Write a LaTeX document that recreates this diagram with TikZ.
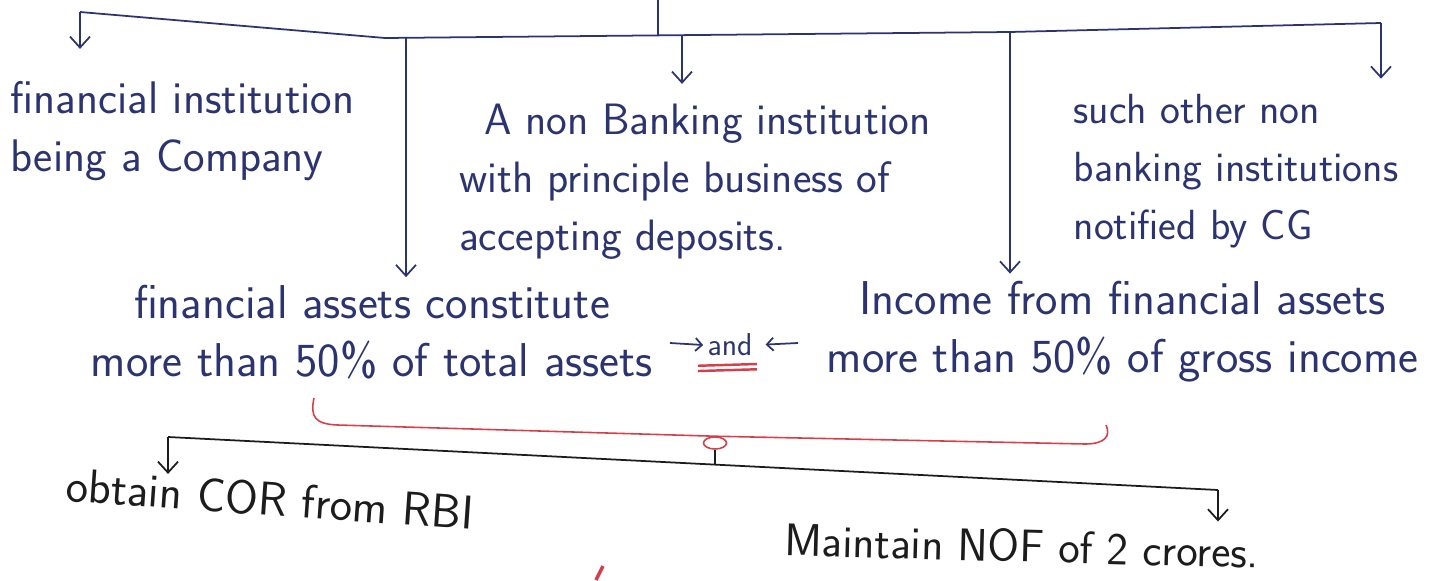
\documentclass[tikz,border=0pt]{standalone}
\usepackage{fontspec}
\usetikzlibrary{arrows.meta,shapes.geometric}

\definecolor{blueink}{RGB}{43,52,112}
\definecolor{blackink}{RGB}{28,28,28}
\definecolor{redink}{RGB}{214,62,74}

\begin{document}
\begin{tikzpicture}[
    x=1cm, y=1cm,
    >={Straight Barb[length=2.2mm,width=4mm]},
    line width=1pt,
    hand/.style={font=\sffamily\fontsize{#1}{33}\selectfont},
    every node/.style={hand=22},
    note/.style={
        text=blueink,
        align=left,
        inner sep=4pt
    },
    bignote/.style={
        text=blueink,
        align=center,
        inner sep=4pt
    },
    lownote/.style={
        text=blackink,
        inner sep=4pt
    },
    smallarrow/.style={
        ->,
        >={Straight Barb[length=1.3mm,width=2.6mm]}
    }
]

    \useasboundingbox (0,0) rectangle (28.8,-11.6);

    % Top bar with its four branches
    \coordinate (top) at (13.16,0);
    \coordinate (tl) at (1.60,-0.24);
    \coordinate (tk) at (7.70,-0.76);
    \coordinate (tb1) at (8.12,-0.756);
    \coordinate (tbs) at (13.16,-0.715);
    \coordinate (tb2) at (13.64,-0.71);
    \coordinate (tb3) at (20.20,-0.64);
    \coordinate (tr) at (27.62,-0.46);

    \node[note, hand=26] (fininst) at (3.65,-2.63)
        {financial institution\\being a Company};

    \node[note, hand=25] (nbfc) at (13.9,-3.64)
        {\hspace*{0.5cm}A non Banking institution\\with principle business of\\accepting deposits.};

    \node[note, hand=24] (other) at (24.72,-3.42)
        {such other non\\banking institutions\\notified by CG};

    \node[bignote, hand=27] (assets) at (7.44,-6.64)
        {financial assets constitute\\more than 50\% of total assets};

    \node[bignote, hand=27] (income) at (22.45,-6.64)
        {Income from financial assets\\more than 50\% of gross income};

    \node[
        text=blueink,
        inner sep=2pt,
        hand=18
    ] (andlbl) at (14.6,-6.9) {and};

    \draw[blueink] (top) -- (tbs);
    \draw[blueink] (tl) -- (tk) -- (tb3) -- (tr);

    \draw[->, blueink, shorten >=0.5cm] (tl) -- (tl |- fininst.north);
    \draw[->, blueink, shorten >=0.25cm] (tb2) -- (tb2 |- nbfc.north);
    \draw[->, blueink, shorten >=0.15cm] (tr) -- (tr |- other.north);
    \draw[->, blueink] (tb1) -- (tb1 |- assets.north);
    \draw[->, blueink] (tb3) -- (tb3 |- income.north);

    % Small arrows into "and"
    \coordinate (andl) at (13.40,-6.86);
    \coordinate (andr) at (15.96,-6.86);
    \draw[smallarrow, blueink] (andl) -- (andlbl.west);
    \draw[smallarrow, blueink, shorten >=5pt] (andr) -- (andlbl.east);

    % Red double underline
    \draw[redink, line width=1.4pt]
        ([xshift=-3pt,yshift=-3pt]andlbl.south west) -- ([yshift=-2pt]andlbl.south east);
    \draw[redink, line width=1.4pt]
        ([xshift=-3pt,yshift=-6pt]andlbl.south west) -- ([yshift=-5pt]andlbl.south east);

    % Red brace joining both conditions
    \node[
        shape=ellipse,
        draw=redink,
        line width=0.9pt,
        minimum width=0.46cm,
        minimum height=0.24cm,
        inner sep=0pt
    ] (knot) at (14.3,-8.86) {};

    \draw[redink, line width=0.9pt]
        (6.28,-7.96) .. controls (6.20,-8.34) and (6.30,-8.48) .. (6.75,-8.50)
        -- (knot.north)
        -- (21.70,-8.88) .. controls (22.10,-8.88) and (22.22,-8.72) .. (22.12,-8.50);

    % Bottom bar with both requirements
    \coordinate (bl) at (3.36,-8.74);
    \coordinate (bm) at (14.3,-9.292);
    \coordinate (br) at (24.36,-9.80);

    \node[lownote, hand=27, rotate=-4] (cor) at (5.4,-9.98)
        {obtain COR from RBI};

    \node[lownote, hand=26, rotate=-1.5] (nof) at (20.44,-10.92)
        {Maintain NOF of 2 crores.};

    \draw[blackink] (bl) -- (br);
    \draw[blackink] (knot.south) -- (bm);
    \draw[->, blackink] (bl) -- (bl |- cor.north);
    \draw[->, blackink] (br) -- (br |- nof.north);

    % Red mark at the lower edge
    \draw[redink, line width=2pt] (11.92,-11.6) -- (12.06,-11.32);

\end{tikzpicture}
\end{document}
